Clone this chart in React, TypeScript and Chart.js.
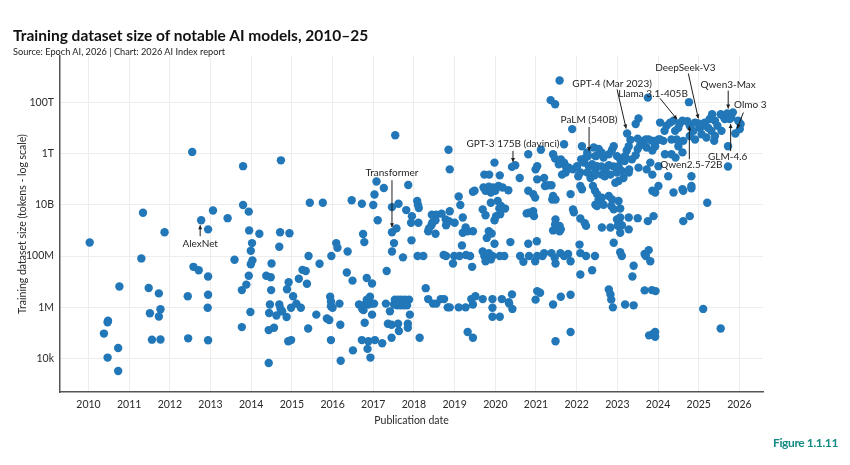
import React, { useEffect, useRef } from "react";
import { Chart, registerables } from "chart.js";

Chart.register(...registerables);

const FONT = "Lato, 'Noto Sans', sans-serif";
const DOT = "#2177b8";

const yearTicks = [2010, 2011, 2012, 2013, 2014, 2015, 2016, 2017, 2018, 2019, 2020, 2021, 2022, 2023, 2024, 2025, 2026];
const tokenTicks = [1e4, 1e6, 1e8, 1e10, 1e12, 1e14];
const tokenTickLabels = ["10k", "1M", "100M", "10B", "1T", "100T"];

// [publication date (decimal year), training dataset size in tokens]
const models2010to2015: [number, number][] = [
  [2010.03, 3.4e8], [2010.76, 6.5e6], [2010.48, 3e5], [2010.47, 2.6e5], [2010.38, 9.5e4], [2010.47, 1.1e4],
  [2010.73, 2.6e4], [2010.73, 3.3e3], [2011.34, 4.9e9], [2011.3, 8.1e7], [2011.48, 5.7e6], [2011.73, 3.5e6],
  [2011.77, 8.5e5], [2011.73, 4.4e5], [2011.51, 5.9e5], [2011.56, 5.5e4], [2011.77, 5.6e4], [2011.87, 8.5e8],
  [2012.55, 1.15e12], [2012.94, 1.1e9], [2013.06, 6e9], [2012.44, 2.7e6], [2012.58, 3.8e7], [2012.71, 2.8e7],
  [2012.94, 1.6e7], [2012.94, 3.1e6], [2012.93, 9.6e5], [2012.45, 6.2e4], [2012.94, 5.2e4], [2013.42, 3e9],
  [2013.8, 3.2e11], [2013.8, 9.8e9], [2013.94, 5.4e9], [2013.95, 1e9], [2014.2, 7.4e8], [2014.02, 3.2e8],
  [2013.99, 1.6e8], [2013.59, 7.2e7], [2014.03, 6.8e7], [2013.99, 4.8e7], [2013.94, 1.7e7], [2013.88, 7.7e6],
  [2013.77, 4.7e6], [2013.98, 6.6e5], [2013.77, 1.7e5], [2014.73, 5.4e11], [2014.71, 8.5e8], [2014.94, 7.7e8],
  [2014.69, 2.3e8], [2014.5, 5.1e7], [2014.37, 1.7e7], [2014.48, 1.5e7], [2014.49, 4.7e6], [2014.92, 9.5e6],
  [2014.88, 5.1e6], [2015.03, 2.7e6], [2015.17, 1.3e7], [2015.26, 2.9e7], [2015.34, 2.6e7], [2015.37, 8.3e6],
  [2015.41, 1e8], [2015.44, 1.2e10], [2014.46, 1.3e6], [2014.44, 6e5], [2014.69, 1.3e6], [2014.72, 8.8e5],
  [2014.76, 7e5], [2014.62, 4.8e5], [2014.87, 4.2e5], [2014.98, 9.6e5], [2015.11, 1.4e6], [2015.22, 9.6e5],
  [2014.43, 1.3e5], [2014.56, 1.6e5], [2014.91, 4.8e4], [2014.98, 5.3e4], [2014.43, 6.8e3], [2015.4, 1.5e5],
];

const models2016to2018: [number, number][] = [
  [2015.76, 1.2e10], [2016.47, 1.5e10], [2016.72, 1.1e10], [2017.0, 9.8e9], [2017.08, 8.1e10], [2017.03, 2.5e10],
  [2017.26, 4.5e10], [2017.54, 5.1e12], [2017.86, 5.9e10], [2017.46, 8.1e9], [2017.62, 1.1e10], [2017.81, 6.2e9],
  [2018.08, 1.4e10], [2018.1, 9.8e9], [2018.12, 7.4e9], [2017.95, 3.6e9], [2017.93, 2e9], [2018.11, 2e9],
  [2017.11, 2.5e9], [2017.57, 1.2e9], [2017.51, 3.2e8], [2017.46, 1.5e8], [2017.73, 8.9e7], [2017.94, 4.1e8],
  [2018.09, 1e8], [2018.23, 1e8], [2016.75, 7.2e8], [2016.78, 3.5e8], [2016.09, 3.2e8], [2016.12, 2.1e8],
  [2016.37, 1.5e8], [2015.97, 1e8], [2015.68, 5e7], [2017.33, 2.6e7], [2016.35, 2.3e7], [2016.49, 1.1e7],
  [2016.84, 1.4e7], [2016.97, 8.5e6], [2015.94, 2.6e6], [2015.96, 1.7e6], [2015.96, 1.1e6], [2016.0, 9.6e5],
  [2016.17, 1.4e6], [2015.6, 5.2e5], [2015.86, 3.7e5], [2015.92, 3.2e5], [2016.19, 2.1e5], [2015.96, 5.3e4],
  [2016.2, 8.3e3], [2016.5, 2.1e4], [2016.72, 5.3e4], [2016.88, 4.8e4], [2017.04, 5.3e4], [2016.86, 2.4e4],
  [2016.93, 1.1e4], [2017.22, 4e4], [2017.45, 6.5e4], [2018.14, 6.5e4], [2016.79, 2.5e5], [2016.97, 5.2e5],
  [2016.65, 1.3e6], [2016.73, 8.7e5], [2016.8, 1.3e6], [2016.84, 2e6], [2016.88, 1.3e6], [2016.92, 2.6e6],
  [2016.96, 1.4e6], [2017.02, 1.4e6], [2016.76, 7.8e5], [2017.31, 1.4e6], [2017.41, 7e5], [2017.36, 2.3e5],
  [2017.45, 2.1e5], [2017.61, 2.3e5], [2017.63, 1.2e5], [2017.85, 2.3e5], [2017.85, 1.6e5], [2017.9, 5.2e5],
  [2017.53, 2e6], [2017.61, 2e6], [2017.69, 2e6], [2017.78, 2e6], [2017.88, 2e6], [2017.51, 1.3e6],
  [2017.59, 1.2e6], [2017.67, 1.2e6], [2017.75, 1.2e6], [2017.83, 1.2e6], [2017.57, 1.6e6], [2018.29, 5.6e6],
  [2018.35, 2.1e6], [2018.47, 1.4e6], [2018.55, 1.4e6], [2018.66, 2.1e6], [2018.74, 2.1e6], [2018.83, 1e6],
  [2018.55, 4.1e9], [2018.44, 4.1e9], [2018.68, 4.5e9], [2018.85, 1.4e12], [2018.88, 2.4e11], [2018.45, 2e9],
  [2018.53, 2.5e9], [2018.43, 1.6e9], [2018.35, 9.3e8], [2018.37, 1.2e9], [2018.53, 7.4e8], [2018.73, 1.1e8],
  [2018.79, 1e8], [2018.78, 2.7e9], [2018.86, 2.3e9], [2018.79, 1.6e9], [2019.0, 2e9], [2018.88, 5.6e9],
];

const models2019to2021: [number, number][] = [
  [2019.1, 2.1e10], [2019.14, 9.8e9], [2019.2, 3.2e9], [2019.27, 1.3e9], [2019.32, 9.3e8], [2019.45, 9.3e8],
  [2019.2, 8.1e8], [2019.18, 2.6e8], [2018.99, 1e8], [2019.12, 1e8], [2019.28, 1.1e8], [2019.38, 1e8],
  [2018.96, 5.1e7], [2019.43, 3.8e7], [2019.69, 1.5e8], [2019.73, 1e8], [2019.79, 8.5e7], [2019.84, 1.3e8],
  [2019.89, 7.4e7], [2019.93, 1e8], [2019.76, 6.3e7], [2020.11, 1e8], [2020.22, 1e8], [2020.37, 3.5e8],
  [2019.98, 3e8], [2019.84, 9.3e8], [2019.91, 7.6e8], [2019.79, 5.1e8], [2019.76, 3.9e9], [2019.69, 6.6e9],
  [2019.98, 2.5e9], [2020.02, 3.6e9], [2020.12, 4.3e9], [2020.1, 7.1e9], [2019.89, 1.2e10], [2020.06, 1.4e10],
  [2020.14, 8.9e9], [2020.24, 7.1e9], [2019.49, 3.5e10], [2019.45, 3.2e10], [2019.71, 4.7e10], [2019.76, 3.5e10],
  [2019.84, 5.1e10], [2019.95, 4.7e10], [2020.08, 5.4e10], [2020.18, 4.7e10], [2020.32, 3.7e10], [2020.0, 3.5e10],
  [2019.89, 3e10], [2019.73, 1.5e11], [2019.85, 1.5e11], [2020.11, 1.4e11], [2019.98, 4.4e11], [2020.49, 3.5e11],
  [2020.6, 1.1e11], [2020.81, 9.3e11], [2020.81, 3.5e10], [2020.93, 2.6e10], [2020.98, 1.9e10], [2020.83, 4.9e9],
  [2020.77, 4.6e9], [2020.93, 5.6e9], [2020.95, 3.6e9], [2020.99, 2.4e11], [2021.03, 3.2e11], [2021.12, 1.4e12],
  [2021.03, 9.8e10], [2021.2, 1.1e11], [2021.3, 5.8e10], [2021.38, 5.8e10], [2021.22, 5.4e10], [2021.42, 2.2e10],
  [2021.4, 1.6e10], [2021.48, 1.6e10], [2021.48, 2.7e9], [2021.47, 1.7e9], [2021.58, 1.5e9], [2021.61, 1.1e9],
  [2021.42, 1e9], [2021.58, 9.3e8], [2020.81, 3e8], [2021.02, 3.8e8], [2020.61, 1e8], [2020.69, 6e7],
  [2020.83, 1e8], [2020.98, 6.3e7], [2021.03, 1e8], [2021.2, 1.3e8], [2021.16, 1e8], [2021.38, 1.3e8],
  [2021.46, 8.5e7], [2021.6, 1.3e8], [2021.69, 1e8], [2021.79, 1.2e8], [2021.48, 5.1e7], [2021.85, 6.3e7],
  [2020.41, 3.2e6], [2020.33, 1.6e6], [2020.42, 8.7e5], [2020.16, 2.1e6], [2019.93, 2.1e6], [2019.93, 9.6e5],
  [2019.93, 4.3e5], [2020.11, 4.3e5], [2019.69, 2.1e6], [2019.45, 1.3e6], [2019.41, 2.1e6], [2019.51, 2.7e6],
  [2019.27, 1e6], [2019.1, 1e6], [2018.88, 1e6], [2020.34, 1.4e6], [2019.32, 1.1e5], [2019.45, 6.5e4],
  [2021.03, 4.3e6], [2021.1, 3.7e6], [2020.99, 2e6], [2021.42, 1.3e6], [2021.61, 2.6e6], [2021.85, 3.1e6],
  [2021.48, 4.8e4], [2021.85, 1.1e5], [2021.58, 7e14], [2021.36, 1.2e14], [2021.47, 8.3e13], [2021.89, 8.9e12],
  [2021.69, 2.3e12], [2021.42, 9.3e11], [2021.47, 6.3e11], [2021.61, 5.9e11], [2021.69, 4.4e11], [2021.56, 3.8e11],
  [2021.73, 3.2e11], [2021.81, 2.8e11], [2021.73, 1.8e11], [2021.64, 1.5e11], [2021.91, 2.4e11], [2021.85, 2.6e10],
  [2021.91, 6.6e9], [2021.93, 5.1e9],
];

const models2022to2025: [number, number][] = [
  [2022.01, 3.2e11], [2022.11, 5.9e11], [2022.22, 6.9e11], [2022.18, 4.4e11], [2022.3, 3.2e11], [2022.38, 3.8e11],
  [2022.09, 1.8e11], [2022.26, 1.8e11], [2022.38, 1.5e11], [2022.46, 2.4e11], [2022.13, 1.9e12], [2022.26, 1.1e12],
  [2022.42, 1.7e12], [2022.46, 7.9e11], [2022.04, 1.3e11], [2022.34, 1.1e11], [2022.44, 1.4e11], [2022.5, 3.2e11],
  [2022.09, 5.4e10], [2022.13, 4e10], [2022.4, 5.4e10], [2022.45, 3.5e10], [2022.46, 1e10], [2022.5, 8.9e9],
  [2022.09, 2.9e9], [2022.2, 1.9e9], [2022.23, 1.5e9], [2022.07, 2.8e8], [2022.09, 1.3e8], [2022.23, 1e8],
  [2022.09, 1.9e7], [2022.38, 2.8e7], [2022.45, 1e8],
  [2023.32, 3.4e12], [2023.5, 3.8e12], [2023.45, 1.4e13], [2023.52, 2.3e13], [2023.75, 1.5e14],
  [2022.54, 1.5e12], [2022.61, 1.1e12], [2022.66, 6.9e11], [2022.79, 9.3e11], [2022.87, 1.4e12], [2022.91, 1.9e12],
  [2022.99, 7.9e11], [2023.07, 5.9e11], [2023.18, 5.1e11], [2023.03, 3.2e11], [2022.91, 3.1e11], [2022.79, 3.5e11],
  [2022.71, 2.4e11], [2022.61, 1.5e11], [2022.69, 1.3e11], [2022.83, 1.5e11], [2022.99, 1.8e11], [2023.11, 2.1e11],
  [2023.19, 7.9e11], [2023.23, 1.3e12], [2023.28, 1.9e12], [2023.36, 5.9e11], [2023.45, 8.5e11], [2023.5, 1.5e12],
  [2023.56, 2.1e12], [2023.64, 3.1e12], [2023.7, 3.5e12], [2023.77, 3.5e12], [2023.89, 3.1e12], [2023.72, 1.7e12],
  [2023.86, 1.3e12], [2023.52, 2.8e11], [2023.29, 2.4e11], [2023.28, 1.8e11], [2023.15, 1.1e11], [2023.03, 8.5e10],
  [2022.95, 7.2e10], [2022.61, 3.1e11], [2022.48, 7.9e11],
  [2022.5, 2.6e10], [2022.54, 1.6e10], [2022.62, 1.9e10], [2022.66, 1e10], [2022.79, 2.2e10], [2022.85, 8.9e9],
  [2022.91, 6.6e9], [2023.03, 1.4e10], [2022.87, 1.6e10], [2023.07, 7.1e9], [2022.99, 2.7e9], [2023.03, 2e9],
  [2023.07, 3.2e9], [2023.01, 1.5e9], [2023.11, 1.6e9], [2023.07, 8.1e8], [2022.62, 1.3e9], [2022.83, 1.3e9],
  [2023.28, 3.2e9], [2023.5, 3e9], [2023.75, 2.3e9], [2023.89, 3.6e9], [2023.28, 1.1e9], [2022.91, 3.3e8],
  [2023.07, 1.4e8], [2023.11, 1e8], [2023.67, 1.2e8], [2023.77, 1.7e8], [2023.7, 1e8], [2023.81, 6.3e7],
  [2023.4, 4.2e7], [2023.37, 1.6e7], [2022.79, 5e6], [2022.83, 3.2e6], [2022.85, 2e6], [2022.89, 1e6],
  [2023.19, 1.3e6], [2023.4, 1.2e6], [2023.67, 4.6e6], [2023.85, 4.7e6], [2023.94, 4.3e6], [2023.78, 8.1e4],
  [2023.89, 9.5e4], [2023.93, 7.1e4], [2023.93, 1.1e5], [2025.11, 8.7e5], [2025.54, 1.5e5], [2025.21, 1.2e10],
  [2024.82, 1.3e11], [2024.82, 5.4e10], [2024.82, 4.4e10], [2024.62, 3.5e10], [2024.38, 3e10], [2024.01, 5.4e10],
  [2023.86, 3.5e10], [2023.93, 3e10], [2024.78, 3.6e9], [2024.62, 2.3e9], [2024.6, 4e10],
  [2024.76, 1e14], [2024.05, 1.6e13], [2024.16, 7.6e12], [2024.21, 1.2e13], [2024.3, 1.6e13], [2024.38, 1.9e13],
  [2024.42, 7.6e12], [2024.5, 1e13], [2024.6, 1.9e13], [2024.78, 1.2e13], [2024.87, 7.6e12], [2024.91, 1.6e13],
  [2025.03, 1e13], [2025.11, 1.2e13], [2025.15, 1.6e13], [2025.23, 1e13], [2025.27, 2.2e13], [2025.33, 3.4e13],
  [2025.4, 1.9e13], [2025.46, 1.2e13], [2025.54, 3.4e13], [2025.6, 2.9e13], [2025.64, 2.2e13], [2025.8, 2.5e13],
  [2025.84, 4e13], [2025.97, 1.9e13], [2026.03, 1.4e13], [2026.01, 8.9e12], [2025.56, 7.6e12], [2025.38, 3.1e12],
  [2025.72, 1.9e12], [2025.72, 3.1e11], [2024.01, 3.5e12], [2023.93, 1.9e12], [2024.13, 3.1e12], [2024.17, 9.3e11],
  [2024.33, 9.3e11], [2024.43, 6.9e11], [2024.33, 3.5e12], [2024.46, 3.5e12], [2024.01, 3.2e11], [2023.81, 4.4e11],
  [2023.72, 2.4e11], [2023.86, 1.5e11], [2024.25, 1.3e11], [2024.6, 1.1e12], [2024.5, 1.9e12], [2024.62, 3.1e12],
  [2024.78, 4.8e12], [2024.91, 3.5e12], [2025.07, 5.6e12], [2025.19, 4.2e12], [2025.31, 7.6e12], [2025.4, 4.8e12],
  [2023.85, 3.1e12], [2024.05, 3.5e12],
];

// Models that carry a callout label
const notableModels = [
  { name: "AlexNet", year: 2012.77, tokens: 2.5e9 },
  { name: "Transformer", year: 2017.46, tokens: 8.5e8 },
  { name: "GPT-3 175B (davinci)", year: 2020.41, tokens: 3e11 },
  { name: "PaLM (540B)", year: 2022.28, tokens: 8e11 },
  { name: "GPT-4 (Mar 2023)", year: 2023.24, tokens: 6e12 },
  { name: "Llama 3.1-405B", year: 2024.54, tokens: 1.5e13 },
  { name: "DeepSeek-V3", year: 2024.99, tokens: 1.48e13 },
  { name: "Qwen2.5-72B", year: 2024.72, tokens: 1.8e13 },
  { name: "Qwen3-Max", year: 2025.7, tokens: 3.6e13 },
  { name: "GLM-4.6", year: 2025.76, tokens: 2.2e13 },
  { name: "Olmo 3", year: 2025.9, tokens: 6e12 },
];

// Callout geometry, in pixels relative to the model's dot: text centre, leader start, leader end
const calloutLayout: Record<string, { text: [number, number]; from: [number, number]; to: [number, number] }> = {
  "AlexNet": { text: [-1, 24], from: [-1, 16], to: [-1, 5] },
  "Transformer": { text: [0, -59], from: [0, -52], to: [0, -5] },
  "GPT-3 175B (davinci)": { text: [1, -23], from: [1, -16], to: [1, -5] },
  "PaLM (540B)": { text: [1, -36], from: [1, -29], to: [1, -5] },
  "GPT-4 (Mar 2023)": { text: [-15, -50], from: [-10, -44], to: [-1, -5] },
  "Llama 3.1-405B": { text: [-27, -30], from: [-20, -25], to: [-3, -4] },
  "DeepSeek-V3": { text: [-13, -56], from: [-10, -50], to: [0, -5] },
  "Qwen2.5-72B": { text: [4, 44], from: [2, 38], to: [2, 5] },
  "Qwen3-Max": { text: [1, -29], from: [1, -23], to: [1, -5] },
  "GLM-4.6": { text: [-2, 38], from: [1, 32], to: [1, 5] },
  "Olmo 3": { text: [15, -29], from: [8, -21], to: [2, -5] },
};

const calloutPlugin = {
  id: "callouts",
  afterDatasetsDraw(chart: any) {
    const { ctx, scales } = chart;
    const xs = scales.x;
    const ys = scales.y;
    ctx.save();
    ctx.font = `10px ${FONT}`;
    ctx.fillStyle = "#1e1e1e";
    ctx.strokeStyle = "#1e1e1e";
    ctx.lineWidth = 1;
    ctx.textAlign = "center";
    ctx.textBaseline = "middle";
    for (const m of notableModels) {
      const l = calloutLayout[m.name];
      const px = xs.getPixelForValue(m.year);
      const py = ys.getPixelForValue(m.tokens);
      const sx = px + l.from[0];
      const sy = py + l.from[1];
      const ex = px + l.to[0];
      const ey = py + l.to[1];
      ctx.beginPath();
      ctx.moveTo(sx, sy);
      ctx.lineTo(ex, ey);
      ctx.stroke();
      const a = Math.atan2(ey - sy, ex - sx);
      ctx.beginPath();
      ctx.moveTo(ex, ey);
      ctx.lineTo(ex - 4 * Math.cos(a) + 2 * Math.sin(a), ey - 4 * Math.sin(a) - 2 * Math.cos(a));
      ctx.lineTo(ex - 4 * Math.cos(a) - 2 * Math.sin(a), ey - 4 * Math.sin(a) + 2 * Math.cos(a));
      ctx.closePath();
      ctx.fill();
      ctx.fillText(m.name, px + l.text[0], py + l.text[1]);
    }
    ctx.restore();
  },
};

export default function App() {
  const canvasRef = useRef<HTMLCanvasElement | null>(null);

  useEffect(() => {
    const canvas = canvasRef.current;
    if (!canvas) return;
    const points = [
      ...models2010to2015,
      ...models2016to2018,
      ...models2019to2021,
      ...models2022to2025,
      ...notableModels.map((m) => [m.year, m.tokens] as [number, number]),
    ].map(([x, y]) => ({ x, y }));

    const tickFont = { family: FONT, size: 10.5 };
    const chart = new Chart(canvas, {
      type: "scatter",
      data: {
        datasets: [
          {
            data: points,
            backgroundColor: DOT,
            borderWidth: 0,
            pointRadius: 4.2,
            pointHoverRadius: 4.2,
          },
        ],
      },
      options: {
        animation: false,
        responsive: false,
        maintainAspectRatio: false,
        layout: { padding: { left: 0, top: 56, right: 87, bottom: 28 } },
        plugins: { legend: { display: false }, tooltip: { enabled: false } },
        scales: {
          x: {
            type: "linear",
            min: 2009.3,
            max: 2026.58,
            afterBuildTicks: (s: any) => {
              s.ticks = yearTicks.map((v) => ({ value: v }));
            },
            afterFit: (s: any) => {
              s.height = 45;
            },
            grid: { color: "#ededed", lineWidth: 1, drawTicks: false },
            border: { display: true, color: "#555", width: 1.5 },
            ticks: {
              padding: 6,
              color: "#2a2a2a",
              font: tickFont,
              autoSkip: false,
              maxRotation: 0,
              callback: (v: any) => String(v),
            },
            title: {
              display: true,
              text: "Publication date",
              color: "#2a2a2a",
              font: { family: FONT, size: 10.5 },
              padding: { top: 0, bottom: 10 },
            },
          },
          y: {
            type: "logarithmic",
            min: Math.pow(10, 2.7),
            max: Math.pow(10, 15.8),
            afterBuildTicks: (s: any) => {
              s.ticks = tokenTicks.map((v) => ({ value: v }));
            },
            afterFit: (s: any) => {
              s.width = 60;
            },
            grid: { color: "#ededed", lineWidth: 1, drawTicks: false },
            border: { display: true, color: "#555", width: 1.5 },
            ticks: {
              padding: 6,
              color: "#2a2a2a",
              font: tickFont,
              autoSkip: false,
              callback: (v: any) => {
                const i = tokenTicks.indexOf(Number(v));
                return i >= 0 ? tokenTickLabels[i] : "";
              },
            },
            title: {
              display: true,
              text: "Training dataset size (tokens - log scale)",
              color: "#2a2a2a",
              font: { family: FONT, size: 10.5 },
              padding: { top: 16, bottom: 0 },
            },
          },
        },
      },
      plugins: [calloutPlugin],
    });
    return () => chart.destroy();
  }, []);

  return (
    <div style={{ position: "fixed", left: 0, top: 0, width: 850, height: 465, background: "#fff", overflow: "hidden" }}>
      <canvas ref={canvasRef} width={850} height={465} style={{ position: "absolute", left: 0, top: 0, display: "block" }} />
      <div
        style={{
          position: "absolute",
          left: 13,
          top: 26,
          fontFamily: FONT,
          fontWeight: 700,
          fontSize: 15.5,
          lineHeight: "18px",
          color: "#111",
          whiteSpace: "nowrap",
        }}
      >
        Training dataset size of notable AI models, 2010–25
      </div>
      <div
        style={{
          position: "absolute",
          left: 13,
          top: 46,
          fontFamily: FONT,
          fontSize: 9.2,
          lineHeight: "11px",
          color: "#222",
          whiteSpace: "nowrap",
        }}
      >
        Source: Epoch AI, 2026 | Chart: 2026 AI Index report
      </div>
      <div
        style={{
          position: "absolute",
          right: 12,
          top: 435,
          fontFamily: FONT,
          fontWeight: 700,
          fontSize: 12,
          letterSpacing: "-0.4px",
          lineHeight: "15px",
          color: "#138a83",
          whiteSpace: "nowrap",
        }}
      >
        Figure 1.1.11
      </div>
    </div>
  );
}
